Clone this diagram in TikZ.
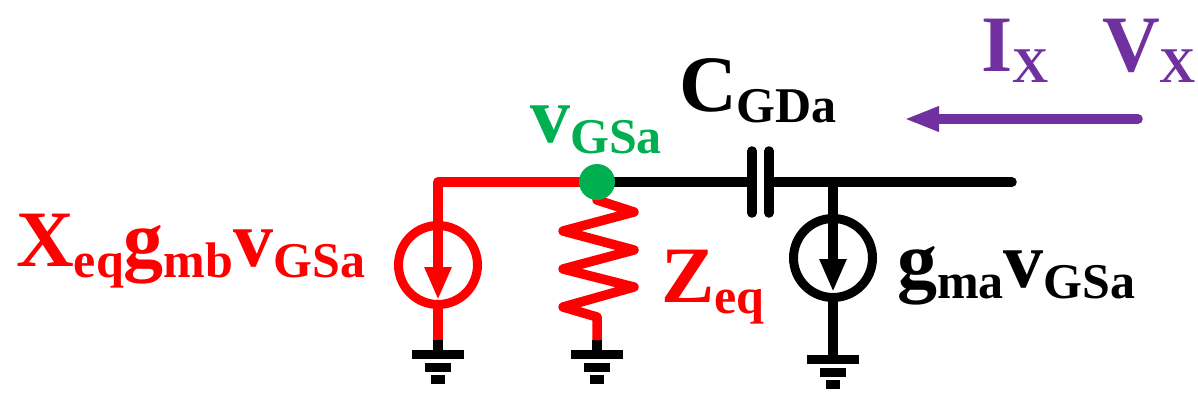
\documentclass[tikz,border=0pt]{standalone}
\usepackage{fontspec}
\setmainfont{Liberation Serif}
\usetikzlibrary{arrows.meta}
\definecolor{netgreen}{RGB}{0,176,80}
\definecolor{testpurple}{RGB}{112,48,160}
\newcommand{\bigtxt}[1]{{\fontsize{80}{80}\selectfont\bfseries #1}}
\newcommand{\subtxt}[1]{\raisebox{-11pt}{\fontsize{50}{50}\selectfont\bfseries #1}}
\tikzset{
  wire/.style={line width=9.5pt,line cap=round,line join=round},
  ring/.style={draw,circle,line width=9pt,minimum size=79pt,inner sep=0pt},
  flow/.style={wire,line cap=butt,-{Triangle[length=33pt,width=25pt]}},
  lbl/.style={anchor=base west,inner sep=0pt}
}
\begin{document}
\begin{tikzpicture}[x=1pt,y=-1pt]
  \useasboundingbox (0,0) rectangle (1198,406);
  \coordinate (corner) at (438,182);
  \coordinate (gsa) at (597,182);
  \coordinate (ztop) at (597,200);
  \coordinate (plateA) at (752,182);
  \coordinate (plateB) at (769,182);
  \coordinate (tap) at (833,182);
  \coordinate (port) at (1012,182);
  \coordinate (zbot) at (597,340);
  \coordinate (srcAbot) at (438,340);
  \coordinate (gndA) at (438,354);
  \coordinate (gndB) at (597,354);
  \coordinate (gndC) at (833,359);
  \node[ring,red] (srcA) at (438,265) {};
  \node[ring,black] (srcB) at (833,258) {};
  % grounds
  \foreach \g in {gndA,gndB,gndC} {
    \draw[line width=9pt] ([xshift=-26pt]\g) -- ([xshift=26pt]\g);
    \draw[line width=9pt] ([xshift=-13pt,yshift=-13pt]\g) -- ([xshift=13pt,yshift=-13pt]\g);
    \draw[line width=9pt] ([xshift=-7pt,yshift=-25pt]\g) -- ([xshift=7pt,yshift=-25pt]\g);
  }
  % black part
  \draw[wire] (gsa) -- (plateA);
  \draw[wire] (plateB) -- (port);
  \draw[wire] ([yshift=-31pt]plateA) -- ([yshift=31pt]plateA);
  \draw[wire] ([yshift=-31pt]plateB) -- ([yshift=31pt]plateB);
  \draw[wire,line cap=butt] (tap) -- (srcB.north);
  \draw[flow] (srcB.north) -- ([yshift=-34pt]srcB.center);
  \draw[wire,line cap=butt] (srcB.south) -- (gndC);
  \draw[wire,line cap=butt] (zbot) -- (gndB);
  \draw[wire,line cap=butt] (srcAbot) -- (gndA);
  % red part
  \begin{scope}[red]
    \draw[wire] (gsa) -- (corner) -- (srcA.north);
    \draw[flow] (srcA.north) -- ([yshift=-35pt]srcA.center);
    \draw[wire,line cap=butt] (srcA.south) -- (srcAbot);
    \draw[wire,line cap=butt] (gsa) -- (ztop) -- (634,212) -- (563,231) -- (634,250) -- (563,269)
      -- (634,287) -- (563,307) -- (597,317) -- (zbot);
  \end{scope}
  \node[circle,fill=netgreen,minimum size=36pt,inner sep=0pt] (dot) at (gsa) {};
  % test source
  \coordinate (xhead) at (904,119);
  \coordinate (xtail) at (1138,119);
  \draw[wire,testpurple,-{Triangle[length=35pt,width=23pt]}] (xtail) -- (xhead);
  % labels
  \node[lbl,red] (xlbl) at (16,266) {\bigtxt{X}\subtxt{eq}\bigtxt{g}\subtxt{mb}\bigtxt{v}\subtxt{GSa}};
  \node[lbl,red] (zlbl) at (661,302) {\bigtxt{Z}\subtxt{eq}};
  \node[lbl,netgreen] (vlbl) at (530,143) {\bigtxt{v}\subtxt{GSa}};
  \node[lbl] (clbl) at (679,112) {\bigtxt{C}\subtxt{GDa}};
  \node[lbl] (glbl) at (897,287) {\bigtxt{g}\subtxt{ma}\bigtxt{v}\subtxt{GSa}};
  \node[lbl,testpurple] (ilbl) at (981,72) {\bigtxt{I}\subtxt{X}};
  \node[lbl,testpurple] (vxlbl) at (1102,72) {\bigtxt{V}\subtxt{X}};
\end{tikzpicture}
\end{document}
